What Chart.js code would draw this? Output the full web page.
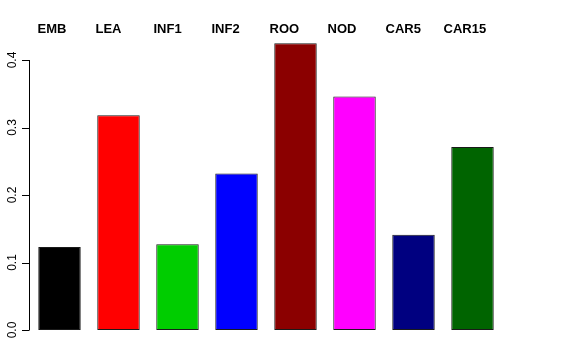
<!DOCTYPE html>
<html>
<head>
<meta charset="utf-8">
<script src="https://cdn.jsdelivr.net/npm/chart.js"></script>
<style>
  html, body { margin: 0; padding: 0; background: #fff; }
  #wrap { width: 576px; height: 360px; }
</style>
</head>
<body>
<div id="wrap"><canvas id="chart" width="576" height="360"></canvas></div>
<script>
// tissue categories and values
const categories = ['EMB', 'LEA', 'INF1', 'INF2', 'ROO', 'NOD', 'CAR5', 'CAR15'];
const values = [0.123, 0.318, 0.127, 0.232, 0.425, 0.346, 0.141, 0.271];
const barColors = ['#000000', '#FF0000', '#00CD00', '#0000FF', '#8B0000', '#FF00FF', '#000080', '#006400'];
const yTicks = [0, 0.1, 0.2, 0.3, 0.4];

// R-style y axis: line, outward ticks, rotated labels
const rAxis = {
  id: 'rAxis',
  afterDraw(chart) {
    const ctx = chart.ctx;
    const y = chart.scales.y;
    const x0 = chart.chartArea.left - 1;
    ctx.save();
    ctx.strokeStyle = '#000';
    ctx.lineWidth = 1;
    ctx.beginPath();
    ctx.moveTo(x0 + 0.5, y.getPixelForValue(yTicks[0]));
    ctx.lineTo(x0 + 0.5, y.getPixelForValue(yTicks[yTicks.length - 1]));
    yTicks.forEach(t => {
      const py = Math.round(y.getPixelForValue(t)) + 0.5;
      ctx.moveTo(x0 + 0.5, py);
      ctx.lineTo(x0 - 7, py);
    });
    ctx.stroke();

    ctx.fillStyle = '#000';
    ctx.font = '12px "Liberation Sans", Arial, sans-serif';
    ctx.textAlign = 'center';
    ctx.textBaseline = 'middle';
    yTicks.forEach(t => {
      ctx.save();
      ctx.translate(13, y.getPixelForValue(t));
      ctx.rotate(-Math.PI / 2);
      ctx.fillText(t.toFixed(1), 0, 0);
      ctx.restore();
    });
    ctx.restore();
  }
};

// bold category names along the top
const topLabels = {
  id: 'topLabels',
  afterDraw(chart) {
    const ctx = chart.ctx;
    const x = chart.scales.x;
    ctx.save();
    ctx.fillStyle = '#000';
    ctx.font = 'bold 13px "Liberation Sans", Arial, sans-serif';
    ctx.textAlign = 'left';
    ctx.textBaseline = 'alphabetic';
    categories.forEach((c, i) => {
      ctx.fillText(c, x.getPixelForValue(i) - 22 - i, 33);
    });
    ctx.restore();
  }
};

new Chart(document.getElementById('chart'), {
  type: 'bar',
  data: {
    labels: categories,
    datasets: [{
      data: values,
      backgroundColor: barColors,
      borderColor: '#1a1a1a',
      borderWidth: 1,
      borderSkipped: false,
      categoryPercentage: 1.0,
      barPercentage: 0.72,
    }],
  },
  options: {
    responsive: false,
    animation: false,
    layout: {
      padding: { left: 30, right: 74, top: 33, bottom: 30 },
    },
    plugins: {
      legend: { display: false },
      tooltip: { enabled: false },
    },
    scales: {
      x: { display: false },
      y: { display: false, min: 0, max: 0.44 },
    },
  },
  plugins: [rAxis, topLabels],
});
</script>
</body>
</html>
